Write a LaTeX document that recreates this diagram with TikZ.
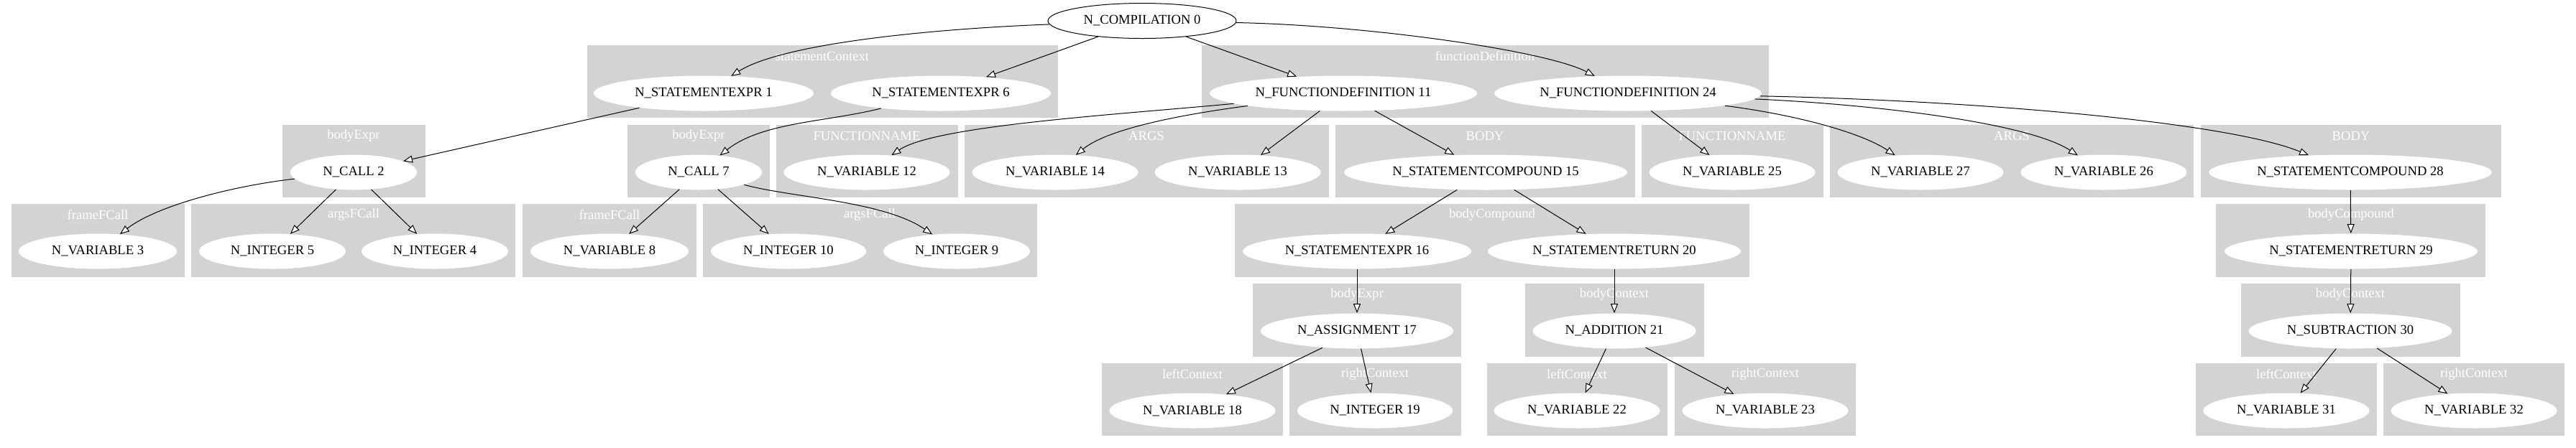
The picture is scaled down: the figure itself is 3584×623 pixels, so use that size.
\documentclass[tikz,border=0pt]{standalone}
\usepackage{fontspec}
\setmainfont{Liberation Serif}
\usetikzlibrary{shapes.geometric, arrows.meta}
\definecolor{clustergrey}{RGB}{211,211,211}

\begin{document}
\begin{tikzpicture}[x=0.5pt, y=-0.5pt,
    every node/.style={font=\fontsize{9.3}{11}\selectfont},
    ast/.style={ellipse, fill=white, inner sep=0pt, minimum height=24.5pt},
    grp/.style={fill=clustergrey},
    clabel/.style={text=white, inner sep=0pt},
    edge/.style={line width=0.5pt, -{Triangle[length=6.5pt, width=5pt, fill=white]}}]
    \useasboundingbox (0,0) rectangle (3584,623);

    % Clusters (row 1)
    \fill[grp] (817,63) rectangle (1472,164);
    \node[clabel] (stmtCtx) at (1144,78) {statementContext};
    \fill[grp] (1672,63) rectangle (2461,164);
    \node[clabel] (funDef) at (2066,78) {functionDefinition};

    % Clusters (row 2)
    \fill[grp] (393,174) rectangle (592,275);
    \node[clabel] (bodyExprA) at (492,189) {bodyExpr};
    \fill[grp] (873,174) rectangle (1071,275);
    \node[clabel] (bodyExprB) at (972,189) {bodyExpr};
    \fill[grp] (1080,174) rectangle (1333,275);
    \node[clabel] (funNameA) at (1206,189) {FUNCTIONNAME};
    \fill[grp] (1342,174) rectangle (1849,275);
    \node[clabel] (argsA) at (1595,189) {ARGS};
    \fill[grp] (1858,174) rectangle (2275,275);
    \node[clabel] (bodyA) at (2066,189) {BODY};
    \fill[grp] (2284,174) rectangle (2537,275);
    \node[clabel] (funNameB) at (2410,189) {FUNCTIONNAME};
    \fill[grp] (2546,174) rectangle (3052,275);
    \node[clabel] (argsB) at (2799,189) {ARGS};
    \fill[grp] (3062,174) rectangle (3480,275);
    \node[clabel] (bodyB) at (3271,189) {BODY};

    % Clusters (row 3)
    \fill[grp] (16,284) rectangle (257,386);
    \node[clabel] (frameA) at (136,299) {frameFCall};
    \fill[grp] (266,284) rectangle (717,386);
    \node[clabel] (argsFA) at (492,299) {argsFCall};
    \fill[grp] (727,284) rectangle (969,386);
    \node[clabel] (frameB) at (848,299) {frameFCall};
    \fill[grp] (978,284) rectangle (1443,386);
    \node[clabel] (argsFB) at (1210,299) {argsFCall};
    \fill[grp] (1718,284) rectangle (2434,386);
    \node[clabel] (bodyCompA) at (2076,299) {bodyCompound};
    \fill[grp] (3083,284) rectangle (3458,386);
    \node[clabel] (bodyCompB) at (3271,299) {bodyCompound};

    % Clusters (row 4)
    \fill[grp] (1743,395) rectangle (2033,497);
    \node[clabel] (bodyExprC) at (1888,410) {bodyExpr};
    \fill[grp] (2122,395) rectangle (2371,497);
    \node[clabel] (bodyCtxA) at (2246,410) {bodyContext};
    \fill[grp] (3118,395) rectangle (3423,497);
    \node[clabel] (bodyCtxB) at (3270,410) {bodyContext};

    % Clusters (row 5)
    \fill[grp] (1533,506) rectangle (1785,607);
    \node[clabel] (leftA) at (1659,521) {leftContext};
    \fill[grp] (1794,506) rectangle (2033,607);
    \node[clabel] (rightA) at (1913,521) {rightContext};
    \fill[grp] (2069,506) rectangle (2320,607);
    \node[clabel] (leftB) at (2194,521) {leftContext};
    \fill[grp] (2330,506) rectangle (2582,607);
    \node[clabel] (rightB) at (2456,521) {rightContext};
    \fill[grp] (3055,506) rectangle (3307,607);
    \node[clabel] (leftC) at (3181,521) {leftContext};
    \fill[grp] (3316,506) rectangle (3568,607);
    \node[clabel] (rightC) at (3442,521) {rightContext};

    % Root
    \node[ast, draw, fill=none, line width=0.5pt, minimum width=131pt] (0) at (1589,29) {N\_COMPILATION 0};

    % Statements and function definitions
    \node[ast, minimum width=153pt] (1) at (979,130) {N\_STATEMENTEXPR 1};
    \node[ast, minimum width=153pt] (6) at (1309,130) {N\_STATEMENTEXPR 6};
    \node[ast, minimum width=186pt] (11) at (1869,130) {N\_FUNCTIONDEFINITION 11};
    \node[ast, minimum width=186pt] (24) at (2265,130) {N\_FUNCTIONDEFINITION 24};

    % Second level
    \node[ast, minimum width=88pt] (2) at (492,240) {N\_CALL 2};
    \node[ast, minimum width=88pt] (7) at (972,240) {N\_CALL 7};
    \node[ast, minimum width=115.5pt] (12) at (1206,240) {N\_VARIABLE 12};
    \node[ast, minimum width=115.5pt] (14) at (1468,240) {N\_VARIABLE 14};
    \node[ast, minimum width=115.5pt] (13) at (1722,240) {N\_VARIABLE 13};
    \node[ast, minimum width=197pt] (15) at (2067,240) {N\_STATEMENTCOMPOUND 15};
    \node[ast, minimum width=115.5pt] (25) at (2410,240) {N\_VARIABLE 25};
    \node[ast, minimum width=115.5pt] (27) at (2672,240) {N\_VARIABLE 27};
    \node[ast, minimum width=115.5pt] (26) at (2927,240) {N\_VARIABLE 26};
    \node[ast, minimum width=197pt] (28) at (3270,240) {N\_STATEMENTCOMPOUND 28};

    % Third level
    \node[ast, minimum width=110pt] (3) at (136,350) {N\_VARIABLE 3};
    \node[ast, minimum width=102pt] (5) at (379,350) {N\_INTEGER 5};
    \node[ast, minimum width=102pt] (4) at (605,350) {N\_INTEGER 4};
    \node[ast, minimum width=110pt] (8) at (848,350) {N\_VARIABLE 8};
    \node[ast, minimum width=108pt] (10) at (1097,350) {N\_INTEGER 10};
    \node[ast, minimum width=102pt] (9) at (1331,350) {N\_INTEGER 9};
    \node[ast, minimum width=159pt] (16) at (1888,350) {N\_STATEMENTEXPR 16};
    \node[ast, minimum width=176pt] (20) at (2246,350) {N\_STATEMENTRETURN 20};
    \node[ast, minimum width=176pt] (29) at (3271,350) {N\_STATEMENTRETURN 29};

    % Fourth level
    \node[ast, minimum width=134pt] (17) at (1888,461) {N\_ASSIGNMENT 17};
    \node[ast, minimum width=113.5pt] (21) at (2246,461) {N\_ADDITION 21};
    \node[ast, minimum width=141.5pt] (30) at (3270,461) {N\_SUBTRACTION 30};

    % Leaves
    \node[ast, minimum width=115.5pt] (18) at (1659,572) {N\_VARIABLE 18};
    \node[ast, minimum width=108pt] (19) at (1913,572) {N\_INTEGER 19};
    \node[ast, minimum width=115.5pt] (22) at (2194,572) {N\_VARIABLE 22};
    \node[ast, minimum width=115.5pt] (23) at (2456,572) {N\_VARIABLE 23};
    \node[ast, minimum width=115.5pt] (31) at (3181,572) {N\_VARIABLE 31};
    \node[ast, minimum width=115.5pt] (32) at (3442,572) {N\_VARIABLE 32};

    % Edges from the root
    \draw[edge] (0) .. controls (1300,40) and (1090,60) .. (1);
    \draw[edge] (0) -- (6);
    \draw[edge] (0) -- (11);
    \draw[edge] (0) .. controls (1900,35) and (2150,70) .. (24);

    % First call
    \draw[edge] (1) -- (2);
    \draw[edge] (2) .. controls (330,258) and (220,285) .. (3);
    \draw[edge] (2) -- (5);
    \draw[edge] (2) -- (4);

    % Second call
    \draw[edge] (6) .. controls (1150,170) and (1060,170) .. (7);
    \draw[edge] (7) -- (8);
    \draw[edge] (7) -- (10);
    \draw[edge] (7) .. controls (1100,275) and (1230,280) .. (9);

    % First function
    \draw[edge] (11) .. controls (1550,160) and (1300,175) .. (12);
    \draw[edge] (11) .. controls (1640,160) and (1540,180) .. (14);
    \draw[edge] (11) -- (13);
    \draw[edge] (11) -- (15);
    \draw[edge] (15) -- (16);
    \draw[edge] (15) -- (20);
    \draw[edge] (16) -- (17);
    \draw[edge] (17) -- (18);
    \draw[edge] (17) -- (19);
    \draw[edge] (20) -- (21);
    \draw[edge] (21) -- (22);
    \draw[edge] (21) -- (23);

    % Second function
    \draw[edge] (24) -- (25);
    \draw[edge] (24) .. controls (2500,160) and (2590,185) .. (27);
    \draw[edge] (24) .. controls (2600,145) and (2820,170) .. (26);
    \draw[edge] (24) .. controls (2750,140) and (3100,170) .. (28);
    \draw[edge] (28) -- (29);
    \draw[edge] (29) -- (30);
    \draw[edge] (30) -- (31);
    \draw[edge] (30) -- (32);
\end{tikzpicture}
\end{document}
